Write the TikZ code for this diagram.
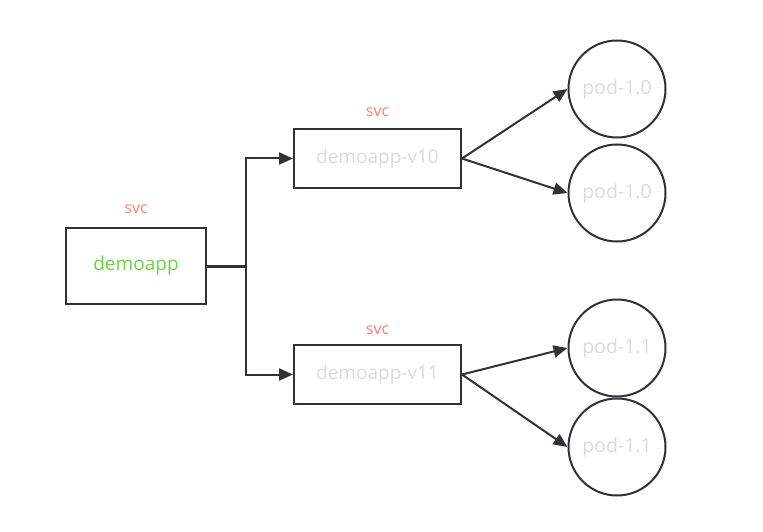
\documentclass[tikz,border=0pt]{standalone}
\usepackage{fontspec}
\setmainfont{Open Sans}
\usepackage{tikz}
\usetikzlibrary{shapes.geometric,arrows.meta}
\definecolor{edge}{HTML}{2F3337}
\definecolor{svcred}{HTML}{FA7F72}
\definecolor{appgreen}{HTML}{72CF45}
\definecolor{faded}{HTML}{DADADA}
\tikzstyle{box} = [ rectangle, minimum width = 140pt, minimum height = 76pt, %
                    text centered, draw = edge, line width = 2pt, %
                    font = \fontsize{19}{21}\selectfont ]
\tikzstyle{subbox} = [ box, minimum width = 167pt, minimum height = 59pt, %
                       text = faded ]
\tikzstyle{pod} = [ circle, minimum size = 97pt, draw = edge, line width = 2pt, %
                    text = faded, font = \fontsize{19.5}{21}\selectfont ]
\tikzstyle{tag} = [ text = svcred, font = \fontsize{16}{18}\selectfont ]
\tikzstyle{arrow} = [ line width = 2pt, draw = edge, %
                      -{Triangle[length=14pt,width=12pt]} ]

\begin{document}
\begin{tikzpicture}[x=1pt, y=-1pt]
      \useasboundingbox (0,0) rectangle (763,532);
      % Boxes
      \node (app) [box, text = appgreen] at (136,266) {demoapp};
      \node (v10) [subbox] at (377.5,158.5) {demoapp-v10};
      \node (v11) [subbox] at (377.5,374.5) {demoapp-v11};
      % Labels
      \node (appsvc) [tag] at (136,209) {svc};
      \node (v10svc) [tag] at (377.5,112) {svc};
      \node (v11svc) [tag] at (377.5,330) {svc};
      % Pods
      \node (pod1) [pod] at (617,89)  {pod-1.0};
      \node (pod2) [pod] at (617,193) {pod-1.0};
      \node (pod3) [pod] at (617,348) {pod-1.1};
      \node (pod4) [pod] at (617,447) {pod-1.1};
      \coordinate (split) at (246,266);
      % Arrows
      \draw [line width = 3pt, draw = edge] (app.east) -- (split);
      \draw [arrow] (split) |- (v10.west);
      \draw [arrow] (split) |- (v11.west);
      \draw [arrow] (v10.east) -- (pod1.west);
      \draw [arrow] (v10.east) -- (pod2.west);
      \draw [arrow] (v11.east) -- (pod3.west);
      \draw [arrow] (v11.east) -- (pod4.west);
    \end{tikzpicture}
\end{document}
